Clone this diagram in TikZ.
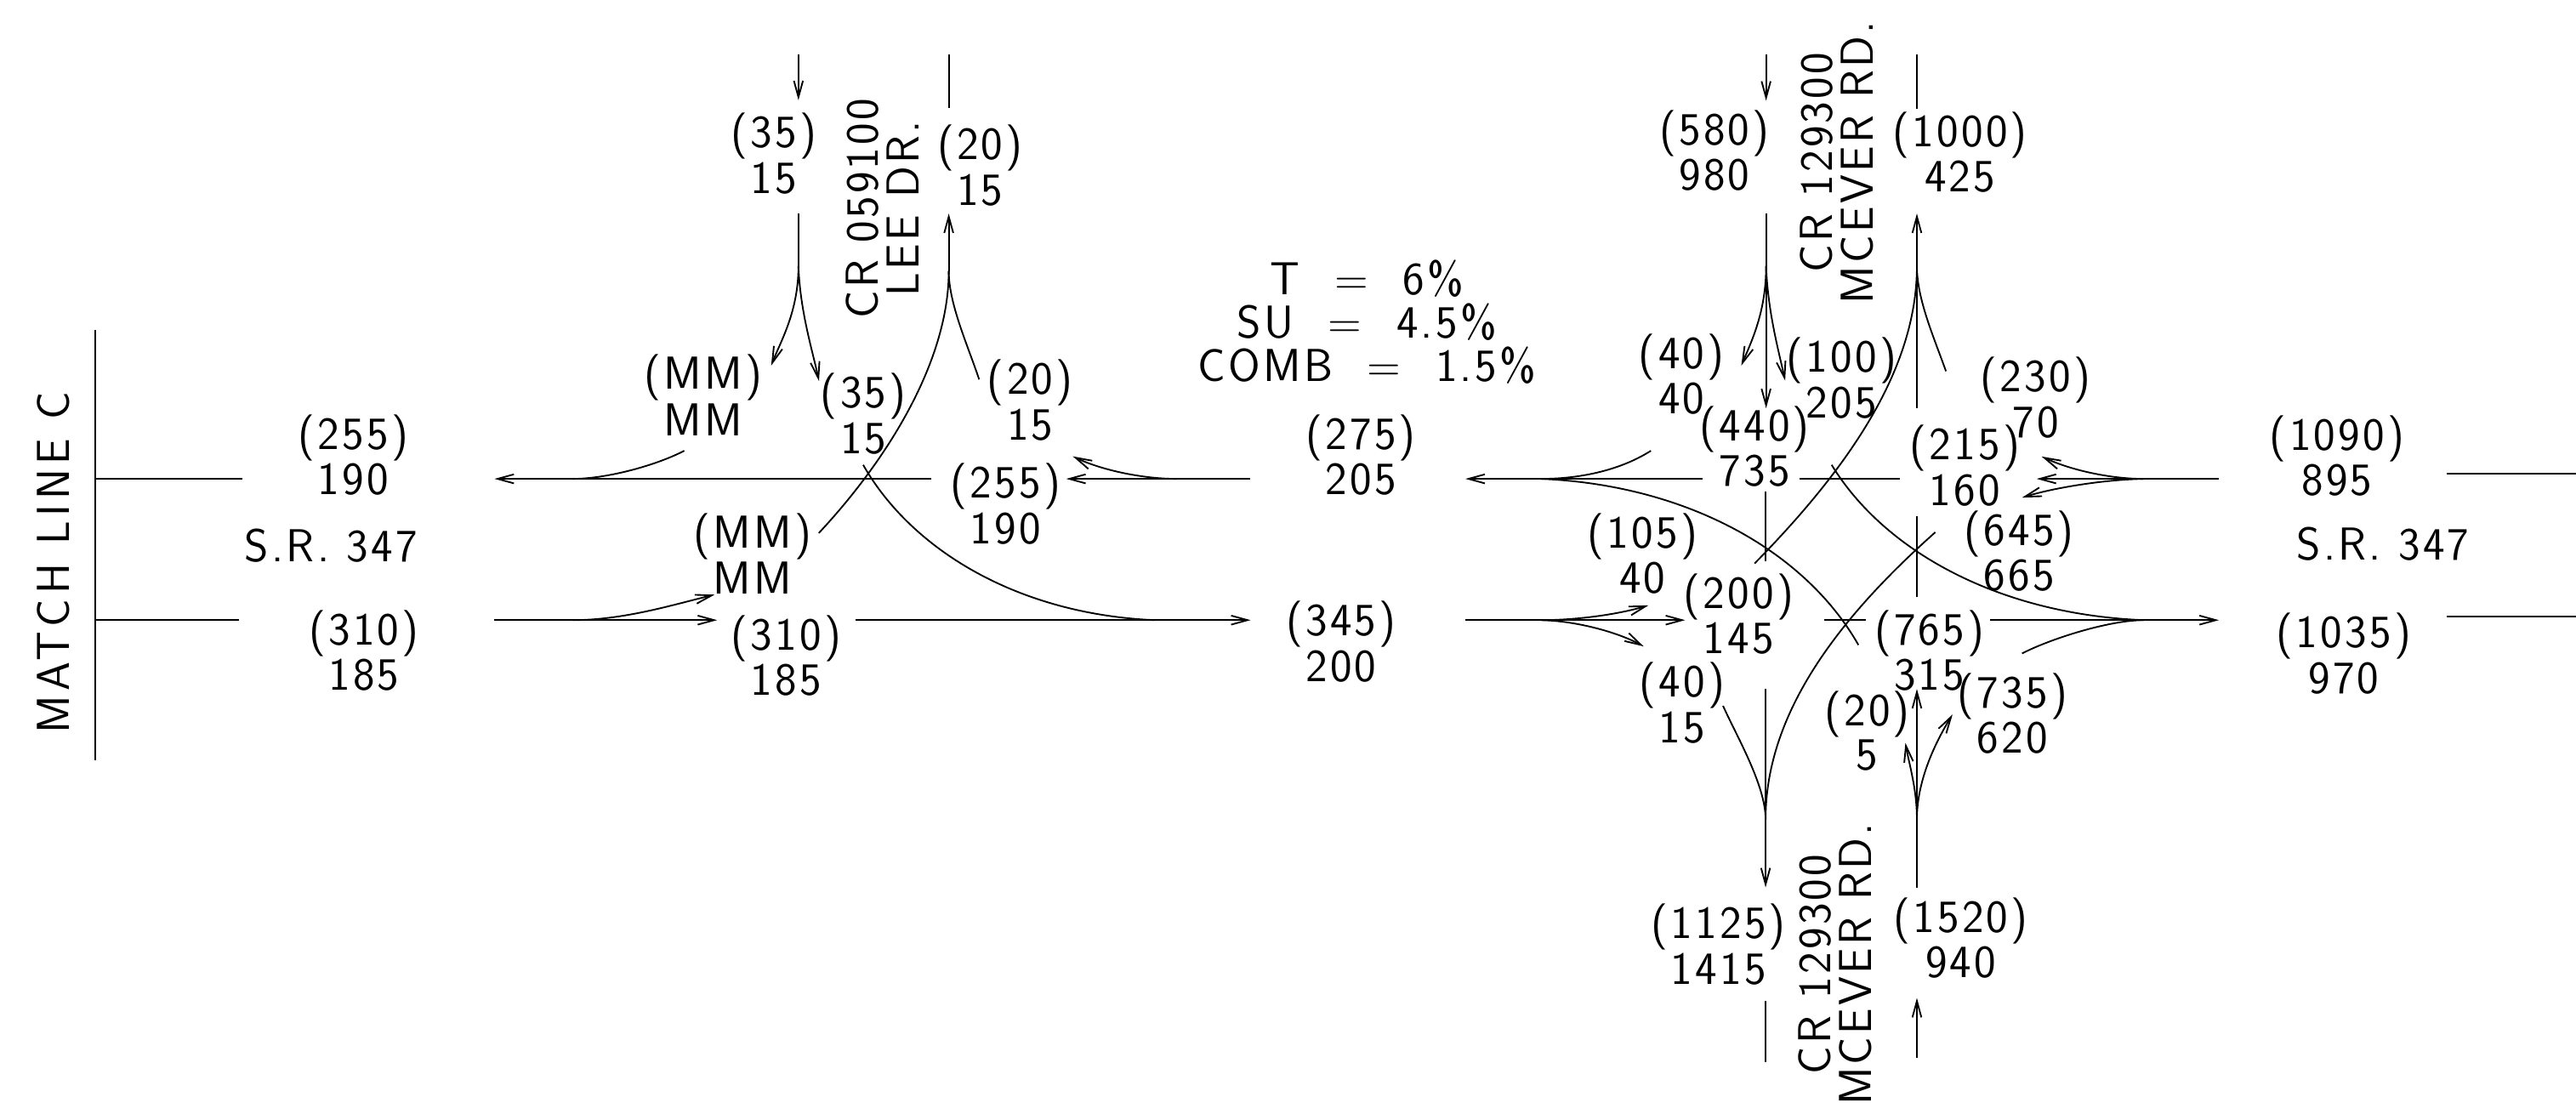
\documentclass[tikz,border=0pt]{standalone}
\usepackage{fontspec}
\newfontfamily\cadfont{lmsans17-regular.otf}[LetterSpace=6]
\newfontfamily\cadwide{lmsans17-regular.otf}[LetterSpace=10]
\usetikzlibrary{arrows.meta}

\begin{document}
\begin{tikzpicture}[x=0.02cm,y=-0.02cm,line width=0.55pt,
  >={Straight Barb[length=2mm,width=1.1mm]},
  vol/.style={align=center,inner sep=0pt,font=\fontsize{16}{13.4}\selectfont\cadfont},
  road/.style={rotate=90,align=center,inner sep=0pt,font=\fontsize{16}{14.2}\selectfont\cadfont}]

\path[fill=white] (0,0) rectangle (1568,678);
\useasboundingbox (0,0) rectangle (1568,678);

% match line
\draw (57.8,201) -- (57.8,463);
\draw (57.8,291.5) -- (147.5,291.5);
\draw (57.8,377.5) -- (145.3,377.5);
\node[road,font=\fontsize{16}{14.2}\selectfont\cadwide] (ml) at (32.7,342.5) {MATCH LINE C};
\node[vol] (wl) at (215,277) {(255)\\190};
\node[vol] (sl) at (201.5,332) {S.R. 347};
\node[vol] (el) at (221.5,396) {(310)\\185};

% Lee Dr.
\coordinate (ls) at (486,162);
\coordinate (ln) at (577.5,165);
\coordinate (lw) at (348.4,291.5);
\coordinate (le) at (348.4,377.5);
\coordinate (lwa) at (716.3,291.5);
\coordinate (led) at (703,377.5);

\draw[->] (486,33) -- (486,61);
\draw (577.5,33) -- (577.5,66);
\draw (486,130) -- (ls);
\draw[->] (ls) .. controls (486,190) and (475,208) .. (469.4,222.6);
\draw[->] (ls) .. controls (487,190) and (495,215) .. (498.5,232);
\draw[->] (ln) -- (577.5,130);
\draw (498.4,324.5) .. controls (540,280) and (577.5,220) .. (ln);
\draw (596,231) .. controls (589,210) and (577.5,185) .. (ln);
\draw (416.5,274.4) .. controls (400,283) and (370,291.5) .. (lw);
\draw[->] (567,291.5) -- (301,291.5);
\draw (761.2,291.5) -- (lwa);
\draw[->] (lwa) -- (649,291.5);
\draw[->] (lwa) .. controls (695,291.5) and (670,286) .. (653,277.8);
\draw (301,377.5) -- (le);
\draw[->] (le) -- (436.5,377.5);
\draw[->] (le) .. controls (380,377.5) and (410,368) .. (435,362);
\draw[->] (520.9,377.5) -- (761.2,377.5);
\draw (525.4,283) .. controls (555,335) and (620,374) .. (led);

\node[vol] (a1) at (471,93.5) {(35)\\15};
\node[vol] (a2) at (596.5,100.8) {(20)\\15};
\node[road] (lee) at (537,127) {CR 059100\\LEE DR.};
\node[vol] (a3) at (428,240.5) {(MM)\\MM};
\node[vol] (a4) at (525.5,252) {(35)\\15};
\node[vol] (a5) at (627,243.6) {(20)\\15};
\node[vol] (a6) at (612,306.8) {(255)\\190};
\node[vol] (a7) at (458,337) {(MM)\\MM};
\node[vol] (a8) at (478.5,399.3) {(310)\\185};

% truck factors
\node[vol,font=\fontsize{16}{15}\selectfont\cadfont] (grade) at (832,196)
  {T \ = \ 6\%\\SU \ = \ 4.5\%\\COMB \ = \ 1.5\%};
\node[vol] (m1) at (828.3,277) {(275)\\205};
\node[vol] (m2) at (816.3,390.6) {(345)\\200};

% McEver Rd.
\coordinate (rs) at (1075,162);
\coordinate (rn) at (1166.8,162);
\coordinate (rw) at (938,291.5);
\coordinate (re) at (938,377.5);
\coordinate (rwa) at (1304.7,291.5);
\coordinate (red) at (1305,377.5);
\coordinate (rsd) at (1074.7,498.8);
\coordinate (rna) at (1166.8,498.8);

\draw[->] (1075,33) -- (1075,61.3);
\draw (1166.8,33) -- (1166.8,66.5);
\draw (1075,130) -- (rs);
\draw[->] (rs) .. controls (1075,190) and (1066,208) .. (1059.9,222.6);
\draw[->] (rs) .. controls (1076,190) and (1083,215) .. (1086.6,231.7);
\draw[->] (rs) -- (1075,248.5);
\draw[->] (1166.8,248.5) -- (1166.8,130);
\draw (1068,343) .. controls (1125,285) and (1166.8,225) .. (rn);
\draw (1184.5,226) .. controls (1177,205) and (1166.8,182) .. (rn);
\draw (1004.9,274.4) .. controls (985,287) and (960,291.5) .. (rw);
\draw (1131.2,392.6) .. controls (1099,336) and (1027.6,295.3) .. (rw);
\draw (1156.5,291.5) -- (1095.6,291.5);
\draw[->] (1036.1,291.5) -- (892,291.5);
\draw (1350.6,291.5) -- (rwa);
\draw[->] (rwa) -- (1239.7,291.5);
\draw[->] (rwa) .. controls (1284,291.5) and (1260,286) .. (1242.7,277.9);
\draw[->] (rwa) .. controls (1280,292) and (1250,297) .. (1230.8,302.9);
\draw (1114.9,283) .. controls (1146.6,335) and (1216,374) .. (red);
\draw (1178,324) .. controls (1115,380) and (1074.7,437) .. (rsd);
\draw (892,377.5) -- (re);
\draw[->] (re) -- (1025.7,377.5);
\draw[->] (re) .. controls (960,377.5) and (985,374) .. (1003.4,368.5);
\draw[->] (re) .. controls (960,378) and (985,385) .. (1000.5,393.5);
\draw (1110.4,377.5) -- (1135.7,377.5);
\draw[->] (1211.5,377.5) -- (1350.6,377.5);
\draw (1230.8,397.8) .. controls (1247.3,389.2) and (1283.4,377.5) .. (red);
\draw (1074.8,299.4) -- (1074.8,341.7);
\draw (1166.8,314) -- (1166.8,363.3);
\draw (1048.8,429.7) .. controls (1057,448) and (1074.7,478) .. (rsd);
\draw[->] (1074.7,419.4) -- (1074.7,540.2);
\draw (1074.7,609.2) -- (1074.7,646.4);
\draw[->] (1166.8,643.8) -- (1166.8,607.5);
\draw (1166.8,540.2) -- (rna);
\draw[->] (rna) -- (1166.8,419.4);
\draw[->] (rna) .. controls (1166.8,480) and (1162,465) .. (1159.8,452.2);
\draw[->] (rna) .. controls (1166.8,475) and (1178,452) .. (1188.5,434.9);
\draw (1489.2,288.5) -- (1568,288.5);
\draw (1489.2,375.5) -- (1568,375.5);

\node[road] (mc1) at (1118,99) {CR 129300\\MCEVER RD.};
\node[road] (mc2) at (1117,587) {CR 129300\\MCEVER RD.};
\node[vol] (b1) at (1043.5,91.8) {(580)\\980};
\node[vol] (b2) at (1193,92.8) {(1000)\\425};
\node[vol] (b3) at (1023.5,227.8) {(40)\\40};
\node[vol] (b4) at (1121,230.2) {(100)\\205};
\node[vol] (b5) at (1068,271.8) {(440)\\735};
\node[vol] (b6) at (1239,242) {(230)\\70};
\node[vol] (b7) at (1196,283.5) {(215)\\160};
\node[vol] (b8) at (999.7,337) {(105)\\40};
\node[vol] (b9) at (1229,335.5) {(645)\\665};
\node[vol] (b10) at (1058.3,373.7) {(200)\\145};
\node[vol] (b11) at (1174.4,396.2) {(765)\\315};
\node[vol] (b12) at (1024,427.8) {(40)\\15};
\node[vol] (b13) at (1136.5,445) {(20)\\5};
\node[vol] (b14) at (1225,434.4) {(735)\\620};
\node[vol] (b15) at (1046,575) {(1125)\\1415};
\node[vol] (b16) at (1193.5,571) {(1520)\\940};

% east end
\node[vol] (wr) at (1422.5,277.4) {(1090)\\895};
\node[vol] (sr) at (1450.5,331) {S.R. 347};
\node[vol] (er) at (1426.6,397.8) {(1035)\\970};

\end{tikzpicture}
\end{document}
